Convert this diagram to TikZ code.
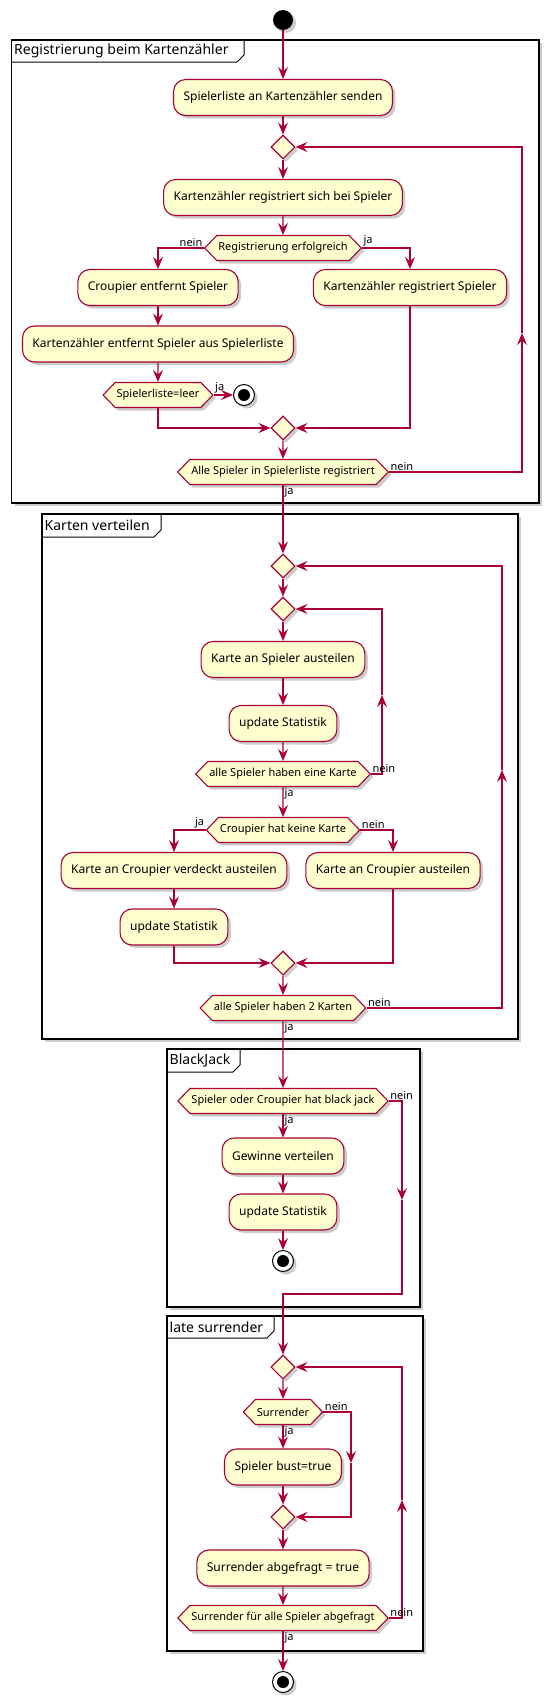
\documentclass[tikz,border=0pt]{standalone}
\usepackage{fontspec}
\setmainfont{Noto Sans}
\usepackage{tikz}
\usetikzlibrary{shapes.geometric, shapes.symbols, arrows.meta, shadows}

\definecolor{umlred}{HTML}{A80036}
\definecolor{umlfill}{HTML}{FEFECE}

\tikzset{
  shade/.style={drop shadow={shadow xshift=3pt, shadow yshift=-3pt, fill=black, opacity=0.2}},
  act/.style={draw=umlred, fill=umlfill, line width=1.1pt, rounded corners=12pt, minimum height=36pt,
    inner xsep=10pt, font=\fontsize{12}{14}\selectfont, shade},
  test/.style={shape=signal, signal to=east and west, signal pointer angle=92, draw=umlred, fill=umlfill,
    line width=1.1pt, minimum height=25pt, inner xsep=1.5pt, inner ysep=0pt, font=\fontsize{11}{13}\selectfont, shade},
  merge/.style={diamond, draw=umlred, fill=umlfill, line width=1.1pt, minimum width=24pt, minimum height=24pt,
    inner sep=0pt, shade},
  startnode/.style={circle, fill=black, minimum size=20pt, inner sep=0pt, shade},
  stopnode/.style={circle, draw=black, fill=white, line width=1pt, minimum size=21pt, inner sep=0pt, shade,
    path picture={\fill[black] (path picture bounding box.center) circle (6pt);}},
  flow/.style={draw=umlred, line width=1.1pt, -{Stealth[length=12pt, width=10pt, inset=4.5pt]}},
  lbl/.style={font=\fontsize{11}{13}\selectfont, inner sep=1pt, text=black},
  frame/.style={draw=black, line width=1.5pt, fill=white, shade},
  tab/.style={draw=black, line width=1pt},
  title/.style={anchor=west, inner sep=0pt, font=\fontsize{14}{16}\selectfont}
}

\begin{document}
\begin{tikzpicture}[x=1pt, y=-1pt]
    \useasboundingbox (0,0) rectangle (554,1708);

    % Registrierung beim Kartenzaehler
    \draw[frame] (11.7,40) rectangle (539,503);
    \draw[tab] (11.7,62) -- (237,62) -- (244,55) -- (244,40);
    \node[title] (reg_title) at (14,51) {Registrierung beim Kartenzähler};

    \node[startnode] (start) at (283,20) {};
    \node[act] (send) at (283,97.5) {Spielerliste an Kartenzähler senden};
    \node[merge] (merge_a) at (283,147) {};
    \node[act] (selfreg) at (283,197.5) {Kartenzähler registriert sich bei Spieler};
    \node[test] (reg_ok) at (283,248) {Registrierung erfolgreich};
    \node[act] (remove) at (158,287.5) {Croupier entfernt Spieler};
    \node[act] (register) at (410,287.5) {Kartenzähler registriert Spieler};
    \node[act] (remove_list) at (158,344) {Kartenzähler entfernt Spieler aus Spielerliste};
    \node[test] (empty) at (158,395) {Spielerliste=leer};
    \node[stopnode] (stop_a) at (244,395) {};
    \node[merge] (merge_b) at (283,428) {};
    \node[test] (all_reg) at (283,472) {Alle Spieler in Spielerliste registriert};
    \coordinate (loop_a) at (522,333);

    \draw[flow] (start) -- (send);
    \draw[flow] (send) -- (merge_a);
    \draw[flow] (merge_a) -- (selfreg);
    \draw[flow] (selfreg) -- (reg_ok);
    \draw[flow] (reg_ok.west) -| (remove.north) node[lbl, pos=0, above left] {nein};
    \draw[flow] (reg_ok.east) -| (register.north) node[lbl, pos=0, above right] {ja};
    \draw[flow] (remove) -- (remove_list);
    \draw[flow] (remove_list) -- (empty);
    \draw[flow] (empty.east) -- (stop_a) node[lbl, pos=0, above right] {ja};
    \draw[flow] (empty.south) |- (merge_b.west);
    \draw[flow] (register.south) |- (merge_b.east);
    \draw[flow] (merge_b) -- (all_reg);
    \draw[flow] (all_reg.east) -| (loop_a) node[lbl, pos=0, above right] {nein};
    \draw[flow] (loop_a) |- (merge_a.east);

    % Karten verteilen
    \draw[frame] (42,514) rectangle (518,1039);
    \draw[tab] (42,537) -- (154,537) -- (161,530) -- (161,514);
    \node[title] (deal_title) at (44.5,525) {Karten verteilen};

    \node[merge] (merge_c) at (283,566) {};
    \node[merge] (merge_d) at (283,609) {};
    \node[act] (deal) at (283,659.5) {Karte an Spieler austeilen};
    \node[act] (stats_a) at (283,723.5) {update Statistik};
    \node[test] (one_card) at (283,774) {alle Spieler haben eine Karte};
    \node[test] (no_card) at (283,830) {Croupier hat keine Karte};
    \node[act] (hidden) at (174,870.5) {Karte an Croupier verdeckt austeilen};
    \node[act] (open) at (393,870.5) {Karte an Croupier austeilen};
    \node[act] (stats_b) at (174,927) {update Statistik};
    \node[merge] (merge_e) at (283,963) {};
    \node[test] (two_cards) at (283,1008) {alle Spieler haben 2 Karten};
    \coordinate (loop_b) at (382,695);
    \coordinate (loop_c) at (502,770);

    \draw[flow] (all_reg.south) -- (merge_c) node[lbl, pos=0, below right] {ja};
    \draw[flow] (merge_c) -- (merge_d);
    \draw[flow] (merge_d) -- (deal);
    \draw[flow] (deal) -- (stats_a);
    \draw[flow] (stats_a) -- (one_card);
    \draw[flow] (one_card.east) -| (loop_b) node[lbl, pos=0, above right] {nein};
    \draw[flow] (loop_b) |- (merge_d.east);
    \draw[flow] (one_card.south) -- (no_card) node[lbl, pos=0, below right] {ja};
    \draw[flow] (no_card.west) -| (hidden.north) node[lbl, pos=0, above left] {ja};
    \draw[flow] (no_card.east) -| (open.north) node[lbl, pos=0, above right] {nein};
    \draw[flow] (hidden) -- (stats_b);
    \draw[flow] (stats_b.south) |- (merge_e.west);
    \draw[flow] (open.south) |- (merge_e.east);
    \draw[flow] (merge_e) -- (two_cards);
    \draw[flow] (two_cards.east) -| (loop_c) node[lbl, pos=0, above right] {nein};
    \draw[flow] (loop_c) |- (merge_c.east);

    % BlackJack
    \draw[frame] (167,1049) rectangle (420,1307);
    \draw[tab] (167,1072) -- (233,1072) -- (240,1065) -- (240,1049);
    \node[title] (bj_title) at (169.5,1060) {BlackJack};

    \node[test] (blackjack) at (283,1101) {Spieler oder Croupier hat black jack};
    \node[act] (payout) at (283,1156) {Gewinne verteilen};
    \node[act] (stats_c) at (283,1212) {update Statistik};
    \node[stopnode] (stop_b) at (283,1261) {};
    \coordinate (bj_down) at (402,1200);
    \coordinate (bj_join) at (283,1294);

    \draw[flow] (two_cards.south) -- (blackjack) node[lbl, pos=0, below right] {ja};
    \draw[flow] (blackjack.south) -- (payout) node[lbl, pos=0, below right] {ja};
    \draw[flow] (payout) -- (stats_c);
    \draw[flow] (stats_c) -- (stop_b);
    \draw[flow] (blackjack.east) -| (bj_down) node[lbl, pos=0, above right] {nein};

    % late surrender
    \draw[frame] (167,1316) rectangle (423,1651);
    \draw[tab] (167,1338) -- (267,1338) -- (274,1331) -- (274,1316);
    \node[title] (late_title) at (169.5,1327) {late surrender};

    \node[merge] (merge_f) at (283,1367) {};
    \node[test] (surrender) at (283,1412) {Surrender};
    \node[act] (bust) at (283,1467) {Spieler bust=true};
    \node[merge] (merge_g) at (283,1517) {};
    \node[act] (asked) at (283,1568) {Surrender abgefragt = true};
    \node[test] (all_asked) at (283,1618) {Surrender für alle Spieler abgefragt};
    \node[stopnode] (stop_c) at (283,1682) {};
    \coordinate (sur_down) at (351,1463);
    \coordinate (loop_d) at (402,1500);

    \draw[flow] (bj_down) |- (bj_join) -- (merge_f);
    \draw[flow] (merge_f) -- (surrender);
    \draw[flow] (surrender.south) -- (bust) node[lbl, pos=0, below right] {ja};
    \draw[flow] (surrender.east) -| (sur_down) node[lbl, pos=0, above right] {nein};
    \draw[flow] (sur_down) |- (merge_g.east);
    \draw[flow] (bust) -- (merge_g);
    \draw[flow] (merge_g) -- (asked);
    \draw[flow] (asked) -- (all_asked);
    \draw[flow] (all_asked.east) -| (loop_d) node[lbl, pos=0, above right] {nein};
    \draw[flow] (loop_d) |- (merge_f.east);
    \draw[flow] (all_asked.south) -- (stop_c) node[lbl, pos=0, below right] {ja};
\end{tikzpicture}
\end{document}
